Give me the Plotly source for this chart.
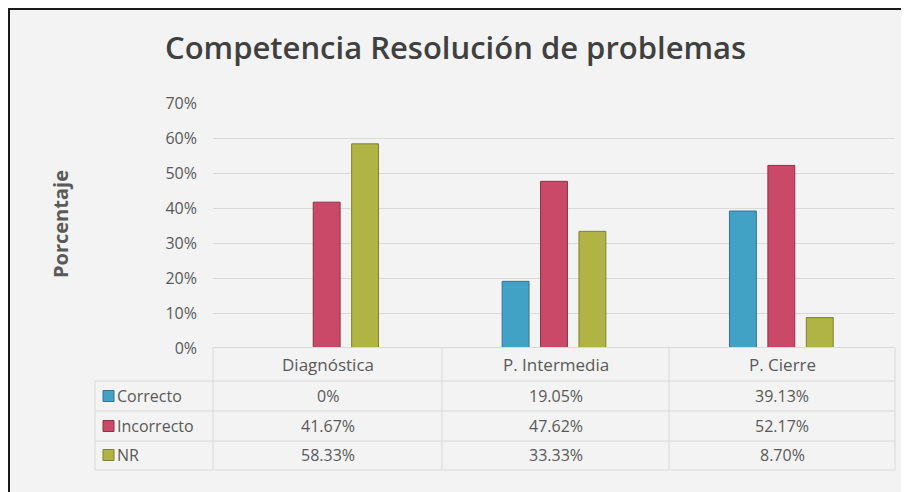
import plotly.graph_objects as go

# ---- data ----
categories = ["Diagnóstica", "P. Intermedia", "P. Cierre"]
series_names = ["Correcto", "Incorrecto", "NR"]
correcto = [0.0, 19.05, 39.13]
incorrecto = [41.67, 47.62, 52.17]
nr = [58.33, 33.33, 8.70]
table_correcto = ["0%", "19.05%", "39.13%"]
table_incorrecto = ["41.67%", "47.62%", "52.17%"]
table_nr = ["58.33%", "33.33%", "8.70%"]
y_ticks = [0, 10, 20, 30, 40, 50, 60, 70]
y_ticklabels = [f"{v}%" for v in y_ticks]

# ---- styles ----
OFF = 8                       # browser body margin
W, H = 909 - OFF, 492 - OFF
L, R, T, B = 213, 895, 103, 348   # plot area in page pixels
colors = ["#42A2C6", "#CA4868", "#B0B444"]
edge = ["#3A6F95", "#8E3347", "#7F8232"]
txt = "#595959"
font_family = "Open Sans, Segoe UI, DejaVu Sans, sans-serif"

def px(x):
    return (x - L) / (R - L)

def py(y):
    return (B - y) / (B - T)

fig = go.Figure()
for name, vals, c, e in zip(series_names, [correcto, incorrecto, nr], colors, edge):
    fig.add_trace(go.Bar(x=categories, y=vals, name=name,
                         marker=dict(color=c, line=dict(color=e, width=1))))

shapes = []
# outer frame/background
shapes.append(dict(type="rect", xref="paper", yref="paper",
                   x0=px(9), x1=px(940), y0=py(9), y1=py(540),
                   fillcolor="#F3F3F3", line=dict(color="#1a1a1a", width=2),
                   layer="below"))
grid = "#D9D9D9"
# table lines
for yy, x0 in [(347.5, 213), (381, 95), (411, 95), (441, 95), (470, 95)]:
    shapes.append(dict(type="line", xref="paper", yref="paper",
                       x0=px(x0), x1=px(895), y0=py(yy), y1=py(yy),
                       line=dict(color=grid, width=1)))
for xx, y0 in [(95, 381), (213, 347.5), (442, 347.5), (669, 347.5), (895, 347.5)]:
    shapes.append(dict(type="line", xref="paper", yref="paper",
                       x0=px(xx), x1=px(xx), y0=py(y0), y1=py(470),
                       line=dict(color=grid, width=1)))

annotations = []
col_centers = [327.5, 555.5, 782]
row_y = [364, 396, 426, 455]
for cx, cat in zip(col_centers, categories):
    annotations.append(dict(x=px(cx), y=py(row_y[0]), xref="paper", yref="paper",
                            text=cat, showarrow=False, xanchor="center", yanchor="middle",
                            font=dict(size=17, color=txt, family=font_family)))
for ri, (name, row) in enumerate(zip(series_names, [table_correcto, table_incorrecto, table_nr])):
    yy = row_y[ri + 1]
    shapes.append(dict(type="rect", xref="paper", yref="paper",
                       x0=px(103), x1=px(114), y0=py(yy - 5.5), y1=py(yy + 5.5),
                       fillcolor=colors[ri], line=dict(color=edge[ri], width=1)))
    annotations.append(dict(x=px(115), y=py(yy), xref="paper", yref="paper",
                            text=name, showarrow=False, xanchor="left", yanchor="middle",
                            font=dict(size=16, color=txt, family=font_family)))
    for cx, v in zip(col_centers, row):
        annotations.append(dict(x=px(cx), y=py(yy), xref="paper", yref="paper",
                                text=v, showarrow=False, xanchor="center", yanchor="middle",
                                font=dict(size=16, color=txt, family=font_family)))

# y-axis title
annotations.append(dict(x=px(60), y=py(224), xref="paper", yref="paper",
                        text="Porcentaje", showarrow=False, textangle=-90,
                        xanchor="center", yanchor="middle",
                        font=dict(size=20, color=txt, family=font_family, weight=700)))
# chart title
annotations.append(dict(x=px(455), y=py(47), xref="paper", yref="paper",
                        text="Competencia Resolución de problemas", showarrow=False,
                        xanchor="center", yanchor="middle",
                        font=dict(size=31, color="#404040", family=font_family, weight=600)))

fig.update_layout(
    width=W, height=H,
    margin=dict(l=L - OFF, r=909 - R, t=T - OFF, b=492 - B, pad=0),
    paper_bgcolor="white", plot_bgcolor="rgba(0,0,0,0)",
    barmode="group", bargap=0.493, bargroupgap=0.3,
    showlegend=False,
    shapes=shapes, annotations=annotations,
    font=dict(family=font_family, color=txt),
)
fig.update_xaxes(showticklabels=False, showgrid=False, zeroline=False, showline=False,
                 range=[-0.5, 2.5], fixedrange=True)
fig.update_yaxes(range=[0, 70], tickvals=y_ticks, ticktext=y_ticklabels,
                 showgrid=True, gridcolor=grid, gridwidth=1, zeroline=False,
                 showline=False, ticks="", ticklabelstandoff=15,
                 tickfont=dict(size=16, color=txt, family=font_family), fixedrange=True)

fig.write_html("out.html")
